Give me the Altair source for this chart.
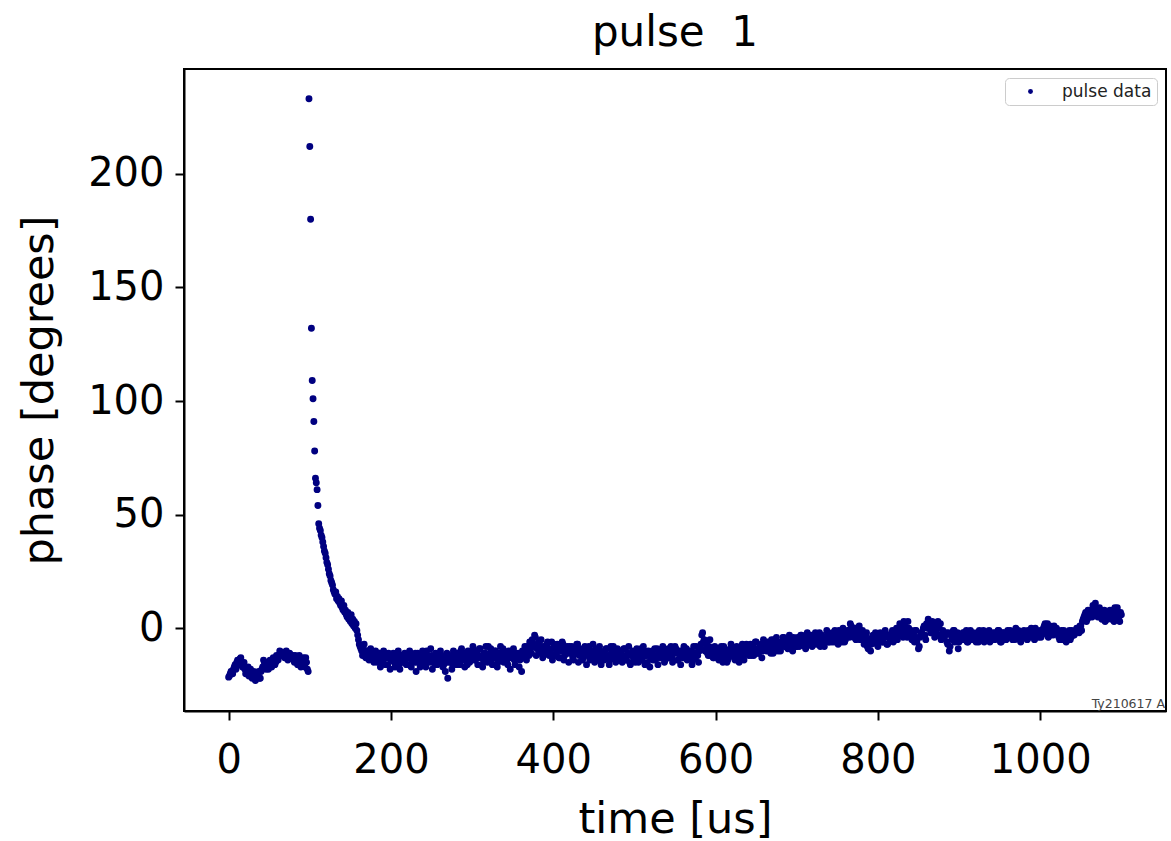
import altair as alt
import pandas as pd

# ---------------- data ----------------
# pre-pulse baseline, even microseconds 0..98
pre_times = list(range(0, 100, 2))
pre_phase = [
    -21.5, -20, -19, -18, -16, -15, -14, -13.5, -15, -16,
    -18, -19, -17, -19, -20, -21, -22, -20, -21, -22,
    -19, -17, -15, -18, -16, -17, -15, -16, -14, -15,
    -13, -12, -11, -10.5, -12, -11, -13, -12, -11.5, -13,
    -14, -12, -15, -14, -16, -15, -13, -17, -15, -19,
]
# pre-pulse baseline, odd microseconds 1..97
pre_times_b = list(range(1, 98, 2))
pre_phase_b = [
    -21, -19, -20, -17, -18, -14, -16, -13, -17, -15,
    -20, -18, -21, -18, -22, -19, -23, -21, -19, -22,
    -18, -14, -17, -15, -18, -14, -17, -13, -16, -12,
    -14, -10, -12, -11, -13, -10, -14, -11, -13, -12,
    -15, -13, -16, -12, -17, -14, -16, -13, -18,
]

# pulse spike and its decay, every microsecond 99..161
spike_times = list(range(99, 162))
spike_phase = [
    233, 212, 180, 132, 109, 101, 91, 78, 66, 64,
    61, 54, 46, 44, 43, 41, 40, 38, 36, 34,
    33, 31, 29, 28, 26, 24, 23, 21, 20, 19,
    17, 16, 15, 16, 13, 14, 12, 13, 11, 10,
    12, 9, 8, 10, 7, 8, 6, 5, 7, 4,
    5, 3, 6, 2, 4, 1, 3, 0, 2, -1,
    -3, -5, -7,
]

# after the pulse, even microseconds 162..1100
post_times = list(range(162, 1101, 2))
post_phase = [
    -8, -10, -9, -12, -11, -10, -13, -12, -11, -14,
    -12, -13, -11, -15, -14, -12, -13, -16, -12, -14,
    -13, -15, -12, -14, -16, -13, -12, -15, -14, -13,
    -16, -12, -14, -13, -11, -15, -14, -17, -13, -12,
    -14, -10, -13, -15, -12, -14, -16, -13, -15, -12,
    -14, -17, -13, -15, -22, -14, -12, -16, -13, -11,
    -13, -15, -10, -12, -14, -11, -16, -13, -12, -10,
    -12, -14, -11, -13, -9, -12, -15, -11, -13, -8,
    -11, -14, -12, -10, -13, -15, -11, -12, -9, -14,
    -12, -16, -13, -10, -12, -14, -11, -13, -17, -12,
    -10, -13, -11, -8, -12, -9, -5, -7, -4, -9,
    -6, -10, -8, -12, -9, -7, -11, -10, -6, -12,
    -9, -11, -8, -13, -10, -7, -12, -9, -11, -8,
    -10, -13, -9, -11, -7, -12, -10, -14, -9, -11,
    -12, -8, -10, -13, -11, -9, -12, -14, -10, -12,
    -11, -13, -9, -12, -14, -10, -8, -12, -13, -11,
    -14, -10, -12, -9, -13, -11, -15, -12, -10, -13,
    -11, -14, -12, -9, -13, -10, -12, -15, -11, -13,
    -10, -12, -14, -9, -11, -13, -12, -10, -14, -11,
    -9, -12, -13, -10, -8, -11, -14, -12, -10, -13,
    -11, -9, -13, -12, -10, -14, -11, -8, -12, -10,
    -7, -2, -5, -9, -11, -8, -12, -10, -13, -9,
    -11, -14, -10, -12, -8, -13, -15, -11, -9, -12,
    -10, -14, -8, -11, -13, -9, -12, -10, -7, -11,
    -9, -12, -8, -10, -6, -11, -9, -7, -10, -8,
    -6, -9, -7, -11, -8, -5, -9, -6, -8, -10,
    -7, -4, -8, -6, -5, -9, -7, -4, -6, -8,
    -5, -7, -3, -6, -8, -4, -5, -7, -3, -6,
    -4, -7, -5, -2, -6, -4, -8, -5, -3, -6,
    -4, -2, -6, -3, -5, -1, -4, -6, -2, -5,
    -3, -1, 2, -2, -4, 0, -3, -1, -5, -2,
    -4, -6, -2, -9, -5, -7, -3, -6, -4, -8,
    -5, -3, -6, -2, -4, -7, -3, -5, -1, -4,
    -2, -5, 0, -3, 1, 3, -1, -4, 0, -2,
    -5, -3, -1, -6, -9, -4, -2, 0, -3, 2,
    4, 0, -2, 1, -4, -1, 3, -3, -5, -1,
    -4, -2, -7, -10, -3, -5, -1, -4, -2, -6,
    -3, -5, -2, -4, -6, -3, -1, -5, -3, -4,
    -2, -6, -3, -5, -1, -4, -2, -3, -6, -4,
    -2, -5, -3, -1, -4, -6, -2, -3, -5, -1,
    -4, -2, -5, -3, 0, -4, -2, -6, -3, -1,
    -3, -5, -2, -4, -1, -3, 0, -2, -4, -1,
    -3, 0, 2, -2, -4, 1, -1, -3, -2, 0,
    -3, -5, -1, -4, -2, -6, -3, -1, -4, -2,
    -3, -1, 0, -2, 1, 3, 5, 7, 4, 6,
    8, 5, 9, 11, 7, 6, 8, 4, 6, 3,
    7, 5, 8, 4, 6, 9, 5, 7, 3, 6,
]
# after the pulse, odd microseconds 163..1099
post_times_b = list(range(163, 1100, 2))
post_phase_b = [
    -9, -12, -7, -13, -10, -14, -9, -12, -15, -10,
    -15, -11, -17, -12, -10, -16, -13, -11, -18, -14,
    -11, -17, -14, -10, -18, -12, -15, -11, -16, -13,
    -10, -17, -12, -15, -19, -11, -13, -16, -10, -15,
    -17, -12, -14, -9, -18, -13, -11, -16, -14, -10,
    -12, -16, -19, -11, -15, -13, -18, -10, -14, -16,
    -11, -16, -9, -14, -17, -12, -10, -15, -13, -8,
    -14, -10, -16, -9, -13, -17, -11, -8, -15, -12,
    -9, -16, -13, -10, -17, -12, -8, -14, -15, -11,
    -15, -10, -18, -12, -9, -16, -13, -11, -14, -19,
    -12, -8, -14, -10, -6, -11, -8, -3, -12, -7,
    -11, -5, -13, -8, -10, -6, -12, -9, -14, -7,
    -12, -7, -13, -9, -6, -14, -10, -8, -15, -11,
    -8, -14, -11, -7, -15, -9, -12, -13, -8, -16,
    -9, -14, -12, -7, -15, -10, -13, -8, -16, -11,
    -14, -9, -12, -16, -8, -13, -11, -15, -9, -12,
    -10, -15, -9, -14, -12, -8, -16, -11, -13, -15,
    -9, -15, -11, -14, -8, -16, -12, -10, -17, -13,
    -14, -9, -12, -16, -10, -13, -8, -15, -11, -12,
    -13, -8, -15, -11, -9, -14, -10, -16, -12, -8,
    -9, -14, -10, -12, -16, -8, -13, -11, -15, -9,
    -3, -6, -10, -7, -12, -5, -9, -13, -8, -11,
    -9, -13, -8, -15, -11, -10, -14, -12, -7, -10,
    -13, -9, -12, -15, -10, -7, -14, -11, -8, -12,
    -7, -10, -12, -6, -9, -11, -8, -13, -5, -9,
    -10, -6, -9, -5, -11, -7, -4, -10, -8, -6,
    -4, -8, -5, -9, -3, -7, -10, -5, -8, -4,
    -8, -3, -6, -4, -9, -2, -7, -5, -8, -4,
    -2, -6, -4, -8, -3, -7, -5, -1, -6, -4,
    -6, -3, -1, -5, -7, -2, -4, 0, -6, -3,
    -1, -4, 1, -3, 0, -5, -2, 1, -4, -1,
    -7, -3, -8, -5, -10, -4, -6, -2, -7, -3,
    -2, -6, -4, -1, -7, -3, -5, -2, -6, -3,
    0, -3, 2, -1, -4, 1, -2, 3, -3, -1,
    -2, -6, -1, -4, -8, -2, -3, 1, -5, 0,
    2, -2, 3, -1, 1, -3, 0, 2, -4, -2,
    -3, -6, -2, -8, -4, -1, -6, -3, -9, -4,
    -5, -2, -4, -1, -6, -3, -5, -2, -4, -6,
    -4, -1, -5, -3, -6, -2, -4, -1, -5, -3,
    -5, -2, -4, -1, -6, -3, -2, -5, -3, -4,
    -1, -4, -2, -5, -3, -1, -5, -2, -4, -3,
    -4, -1, -3, 0, -2, -5, -1, -3, -2, -4,
    -1, 1, -2, 2, 0, -3, -1, 1, -2, -1,
    -4, -2, -5, -1, -3, -4, -2, -5, -1, -3,
    -2, 0, -1, 1, -1, 4, 6, 3, 8, 5,
    7, 10, 6, 8, 5, 9, 7, 5, 8, 6,
    4, 7, 5, 8, 3, 6, 9, 5, 7,
]

x_ticks = [0, 200, 400, 600, 800, 1000]
y_ticks = [0, 50, 100, 150, 200]
x_domain = [-55, 1155]
y_domain = [-36.4, 246.1]
series_name = "pulse data"
title_text = "pulse\u00a0 1"
x_title = "time [us]"
y_title = "phase [degrees]"
stamp_text = "Ty210617 A"

assert len(pre_times) == len(pre_phase)
assert len(pre_times_b) == len(pre_phase_b)
assert len(spike_times) == len(spike_phase)
assert len(post_times) == len(post_phase)
assert len(post_times_b) == len(post_phase_b)

df = pd.DataFrame({
    "time": pre_times + pre_times_b + spike_times + post_times + post_times_b,
    "phase": pre_phase + pre_phase_b + spike_phase + post_phase + post_phase_b,
})
df = df.sort_values("time").reset_index(drop=True)
df["series"] = series_name

W, H = 982, 642
FONT = "DejaVu Sans"

points = alt.Chart(df).mark_circle(size=48, opacity=1).encode(
    x=alt.X("time:Q",
            scale=alt.Scale(domain=x_domain, nice=False, zero=False),
            axis=alt.Axis(values=x_ticks, title=x_title, format="d",
                          labelPadding=20, titlePadding=18)),
    y=alt.Y("phase:Q",
            scale=alt.Scale(domain=y_domain, nice=False, zero=False),
            axis=alt.Axis(values=y_ticks, title=y_title, format="d",
                          labelPadding=11, titlePadding=26)),
    color=alt.Color("series:N",
                    scale=alt.Scale(range=["#000080"]),
                    legend=alt.Legend(title=None, orient="none",
                                      legendX=821, legendY=9,
                                      fillColor="white", strokeColor="#cccccc",
                                      cornerRadius=4, padding=5,
                                      labelFont=FONT, labelFontSize=17,
                                      labelColor="#222222",
                                      symbolSize=24, symbolType="circle",
                                      symbolStrokeWidth=0, symbolOffset=12,
                                      labelOffset=23,
                                      columnPadding=0, rowPadding=0)),
)

stamp = alt.Chart(pd.DataFrame({"label": [stamp_text]})).mark_text(
    align="right", baseline="alphabetic", fontSize=12.5, font=FONT,
    color="#444444"
).encode(
    x=alt.value(W - 1), y=alt.value(H - 3), text="label:N"
)

chart = alt.layer(points, stamp).properties(
    width=W, height=H,
    title=alt.TitleParams(title_text, font=FONT, fontSize=42,
                          fontWeight="normal", color="black",
                          anchor="middle", offset=14),
    autosize=alt.AutoSizeParams(type="none"),
    padding={"left": 184, "top": 69, "right": 5, "bottom": 130},
).configure_view(
    stroke="black", strokeWidth=2
).configure_axis(
    grid=False, domainColor="black", domainWidth=2,
    tickColor="black", tickWidth=2, tickSize=9,
    labelFont=FONT, labelFontSize=40, labelColor="black",
    titleFont=FONT, titleFontSize=43, titleFontWeight="normal", titleColor="black",
)

chart.save("out.html", embed_options={"renderer": "svg", "actions": False})
